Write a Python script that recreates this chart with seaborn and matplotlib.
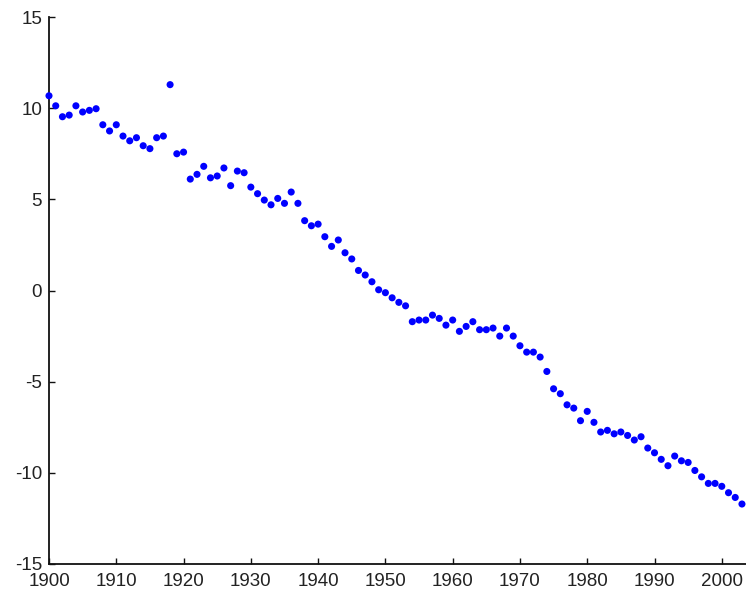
import numpy as np
import pandas as pd
import matplotlib
matplotlib.use("Agg")
import matplotlib.pyplot as plt
import seaborn as sns

years = list(range(1900, 2004))
values = [
    10.68, 10.13, 9.53, 9.62, 10.13, 9.79, 9.88, 9.97, 9.09, 8.75,
    9.09, 8.47, 8.21, 8.38, 7.94, 7.78, 8.38, 8.47, 11.29, 7.50,
    7.59, 6.11, 6.37, 6.81, 6.18, 6.28, 6.72, 5.75, 6.55, 6.46,
    5.67, 5.31, 4.96, 4.70, 5.05, 4.78, 5.40, 4.78, 3.83, 3.55,
    3.64, 2.95, 2.42, 2.77, 2.07, 1.73, 1.10, 0.85, 0.48, 0.04,
    -0.12, -0.40, -0.65, -0.84, -1.71, -1.62, -1.62, -1.35, -1.53, -1.90,
    -1.62, -2.24, -1.97, -1.71, -2.15, -2.15, -2.06, -2.50, -2.06, -2.50,
    -3.03, -3.38, -3.38, -3.65, -4.44, -5.39, -5.66, -6.27, -6.45, -7.14,
    -6.63, -7.23, -7.76, -7.67, -7.86, -7.76, -7.95, -8.20, -8.02, -8.64,
    -8.90, -9.26, -9.61, -9.08, -9.34, -9.43, -9.87, -10.22, -10.58, -10.58,
    -10.74, -11.09, -11.35, -11.71,
]
xticks = [1900, 1910, 1920, 1930, 1940, 1950, 1960, 1970, 1980, 1990, 2000]
yticks = [-15, -10, -5, 0, 5, 10, 15]

df = pd.DataFrame({"year": years, "value": values})

sns.set_theme(style="ticks")
plt.rcParams["font.family"] = ["Liberation Sans", "DejaVu Sans"]
plt.rcParams["axes.unicode_minus"] = False

fig = plt.figure(figsize=(7.46, 5.94), dpi=100)
ax = fig.add_axes([49 / 746, 30 / 594, 697 / 746, 547 / 594])

sns.scatterplot(data=df, x="year", y="value", ax=ax, color="#0000ff",
                s=26, edgecolor="none", linewidth=0, legend=False,
                clip_on=False, zorder=3)

ax.set_xlim(1900, 2003.6)
ax.set_ylim(-15, 15)
ax.set_xticks(xticks)
ax.set_yticks(yticks)
ax.set_xlabel("")
ax.set_ylabel("")
for s in ["top", "right"]:
    ax.spines[s].set_visible(False)
for s in ["left", "bottom"]:
    ax.spines[s].set_linewidth(1.3)
    ax.spines[s].set_color("#111111")
ax.tick_params(axis="both", direction="in", length=4.5, width=1.0,
               color="#111111", labelsize=13.5, labelcolor="#222222")
ax.tick_params(axis="y", pad=5)
ax.tick_params(axis="x", pad=6.5)
ax.set_facecolor("white")
fig.patch.set_facecolor("white")

fig.savefig("out.png", dpi=100)
